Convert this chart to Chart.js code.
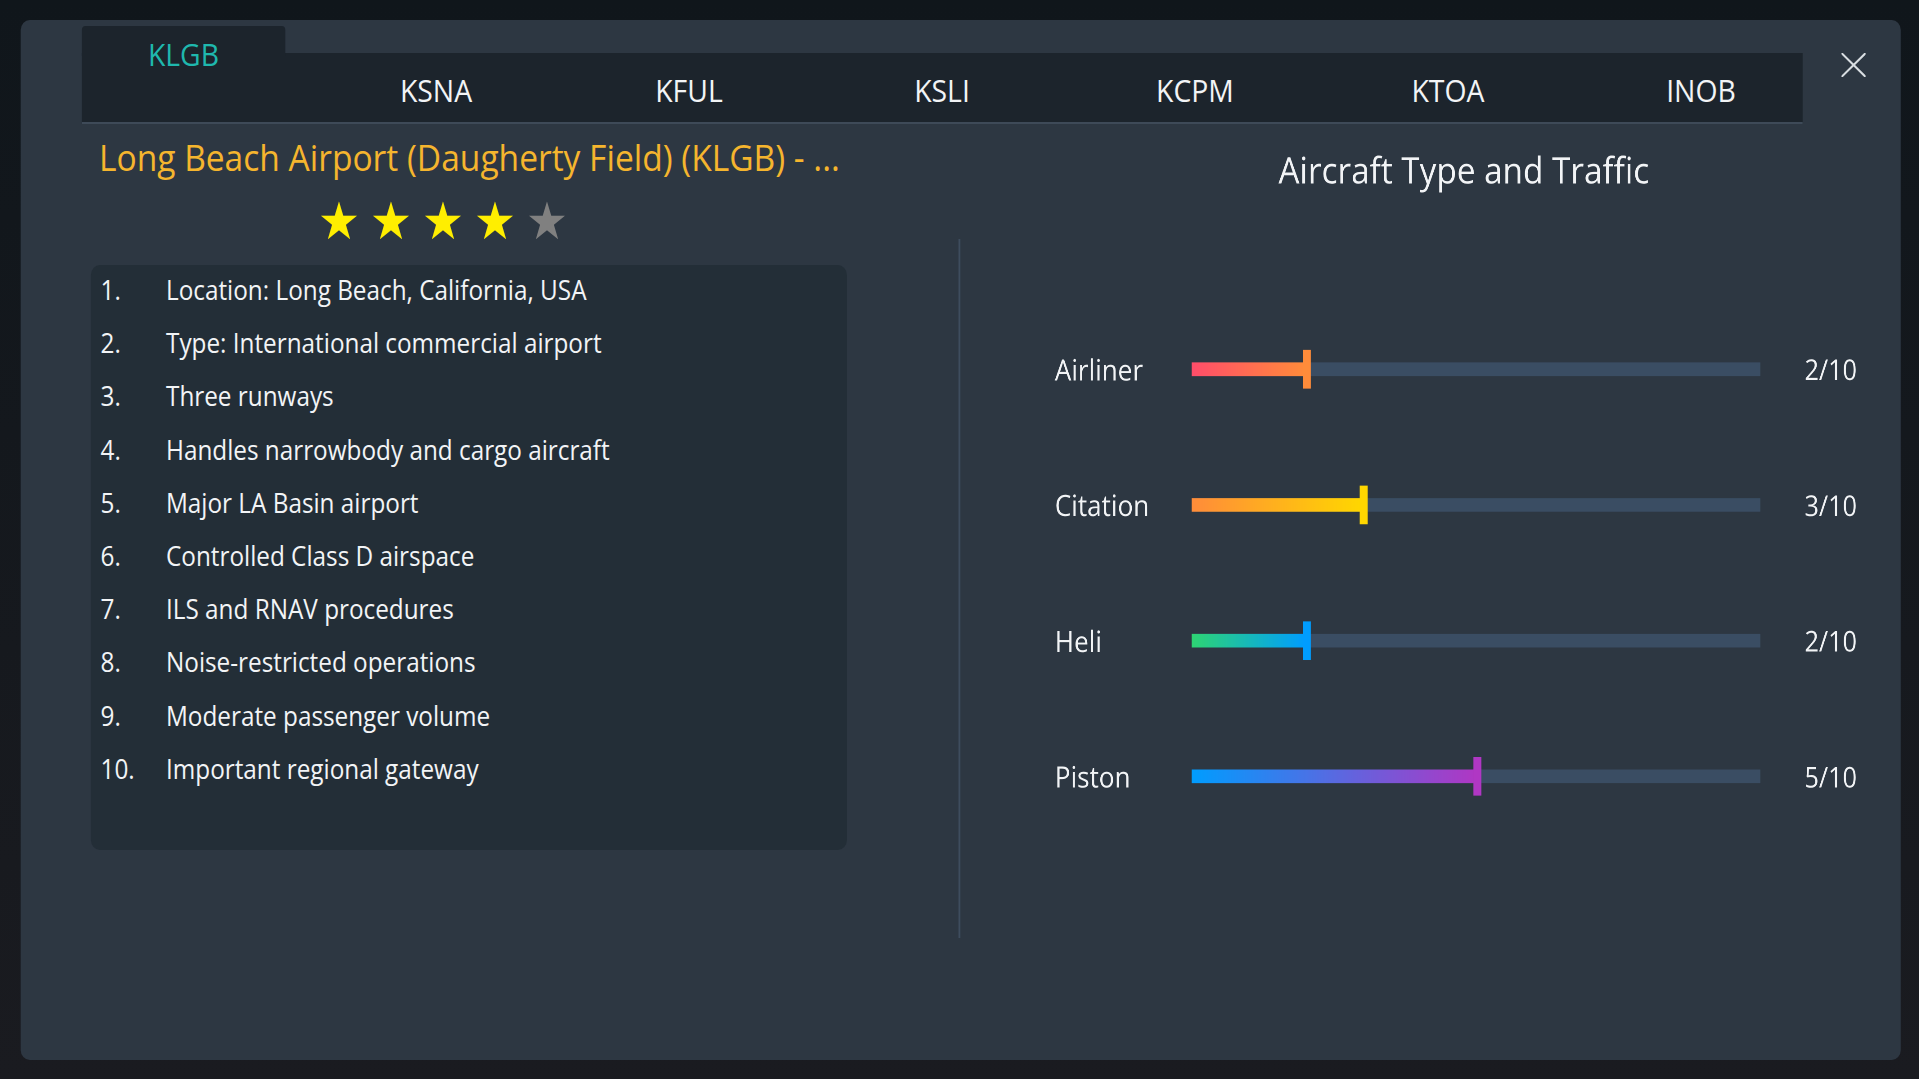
<!DOCTYPE html>
<html>
<head>
<meta charset="utf-8">
<script src="https://cdn.jsdelivr.net/npm/chart.js@4"></script>
<style>
    html, body { margin: 0; padding: 0; width: 1919px; height: 1079px; overflow: hidden; background: #14181d; }
    /* the reference is squeezed horizontally, so the whole page is too */
    #stage { position: absolute; left: 0; top: 0; width: 2133px; height: 1079px; transform: scaleX(0.9); transform-origin: 0 0;
        background: linear-gradient(180deg, #10161b 0%, #1a1b20 100%); font-family: "Open Sans", sans-serif; font-weight: 400; color: #f2f4f6; }
    .box { position: absolute; }
    .t { position: absolute; white-space: nowrap; line-height: 1; transform: translateY(-50%); }
    .c { transform: translate(-50%, -50%); }
    #chart-wrap { position: absolute; left: 1172px; top: 140px; width: 909px; height: 770px; }
</style>
</head>
<body>
<div id="stage">
    <div class="box" style="left:23px;top:20px;width:2089px;height:1040px;background:#2d3742;border-radius:10px"></div>
    <div class="box" style="left:91px;top:53px;width:1912px;height:69px;background:#1c242c;border-bottom:2px solid #3e4a58"></div>
    <div class="box" style="left:91px;top:26px;width:226px;height:30px;background:#1c242c;border-radius:4px 4px 0 0"></div>
    <div class="box" style="left:101px;top:265px;width:840px;height:585px;background:#232e37;border-radius:10px"></div>
    <div class="box" style="left:1065px;top:239px;width:2px;height:699px;background:#3e4d5e"></div>
    <svg class="box" style="left:2046px;top:53px" width="27" height="24"><path d="M0 0L27 24M27 0L0 24" stroke="#d8dde1" stroke-width="2.2" fill="none"/></svg>
    <div id="chart-wrap"><canvas id="traffic-chart" width="909" height="770"></canvas></div>
</div>
<script>
// Data
const tabs = ["KLGB", "KSNA", "KFUL", "KSLI", "KCPM", "KTOA", "INOB"];
const airportTitle = "Long Beach Airport (Daugherty Field) (KLGB) - ...";
const rating = 4;
const ratingMax = 5;
const facts = [
    "Location: Long Beach, California, USA",
    "Type: International commercial airport",
    "Three runways",
    "Handles narrowbody and cargo aircraft",
    "Major LA Basin airport",
    "Controlled Class D airspace",
    "ILS and RNAV procedures",
    "Noise-restricted operations",
    "Moderate passenger volume",
    "Important regional gateway"
];
const categories = ["Airliner", "Citation", "Heli", "Piston"];
const trafficValues = [2, 3, 2, 5];
const trafficMax = 10;
const valueLabels = ["2/10", "3/10", "2/10", "5/10"];

const fillStart = ["#ff4d6a", "#ff8c3a", "#2ed573", "#009dff"];
const fillEnd = ["#ff8c3a", "#ffd700", "#009dff", "#b037c4"];

const k = 0.9; // horizontal squeeze of #stage
const stage = document.getElementById("stage");

function addText(text, x, y, size, color, centered, weight) {
    const el = document.createElement("div");
    el.className = centered ? "t c" : "t";
    el.textContent = text;
    el.style.left = (x / k) + "px";
    el.style.top = y + "px";
    el.style.fontSize = size + "px";
    if (color) el.style.color = color;
    if (weight) el.style.fontWeight = weight;
    stage.appendChild(el);
    return el;
}

// Tabs
addText(tabs[0], 183.5, 54, 31.5, "#1fb8ae", true);
tabs.slice(1).forEach((tab, i) => addText(tab, 436 + i * 253, 90, 31.5, "#f2f4f6", true));

// Title and rating
addText(airportTitle, 99, 156.5, 37.25, "#f5b52e");
for (let i = 0; i < ratingMax; i++) {
    const star = addText("★", 339 + i * 52, 221, 52, i < rating ? "#ffee00" : "#808080", true, 400);
    star.style.fontFamily = "'DejaVu Sans'";
}

// Fact list
facts.forEach((fact, i) => {
    const y = 289 + i * 53.2;
    addText((i + 1) + ".", 100.5, y, 27);
    addText(fact, 166, y, 27);
});

// Gradient from the start of the track to the end of the value
function fillGradient(context) {
    const chart = context.chart;
    const { chartArea, scales } = chart;
    if (!chartArea || context.dataIndex === undefined) return fillEnd[0];
    const i = context.dataIndex;
    const g = chart.ctx.createLinearGradient(scales.x.getPixelForValue(0), 0, scales.x.getPixelForValue(trafficValues[i]), 0);
    g.addColorStop(0, fillStart[i]);
    g.addColorStop(1, fillEnd[i]);
    return g;
}

const ctx = document.getElementById("traffic-chart").getContext("2d");
new Chart(ctx, {
    type: "bar",
    data: {
        labels: categories,
        datasets: [
            {
                label: "Track",
                data: categories.map(() => trafficMax),
                backgroundColor: "#3a4d63",
                barThickness: 13,
                grouped: false,
                order: 3
            },
            {
                label: "Traffic",
                data: trafficValues,
                backgroundColor: fillGradient,
                barThickness: 13,
                grouped: false,
                order: 2
            },
            {
                label: "Marker",
                data: trafficValues.map(v => [v - 0.04, v + 0.09]),
                backgroundColor: fillEnd,
                barThickness: 38,
                grouped: false,
                order: 1
            }
        ]
    },
    options: {
        indexAxis: "y",
        responsive: false,
        animation: false,
        devicePixelRatio: 2,
        layout: { padding: 0 },
        plugins: {
            legend: { display: false },
            tooltip: { enabled: false },
            title: {
                display: true,
                text: "Aircraft Type and Traffic",
                color: "#f2f4f6",
                font: { family: "Open Sans", size: 37, weight: "400", lineHeight: 1.2 },
                padding: { top: 11, bottom: 106 }
            }
        },
        scales: {
            x: { display: false, min: 0, max: trafficMax, ticks: { display: false } },
            y: {
                position: "left",
                grid: { display: false, drawTicks: false },
                border: { display: false },
                afterFit: scale => { scale.width = 152; },
                ticks: {
                    crossAlign: "far",
                    labelOffset: 3,
                    color: "#f2f4f6",
                    font: { family: "Open Sans", size: 29, weight: "400" }
                }
            },
            y2: {
                type: "category",
                position: "right",
                labels: valueLabels,
                grid: { display: false, drawTicks: false },
                border: { display: false },
                afterFit: scale => { scale.width = 125; },
                ticks: {
                    padding: 49,
                    labelOffset: 3,
                    color: "#f2f4f6",
                    font: { family: "Open Sans", size: 28, weight: "400" }
                }
            }
        }
    }
});
</script>
</body>
</html>
